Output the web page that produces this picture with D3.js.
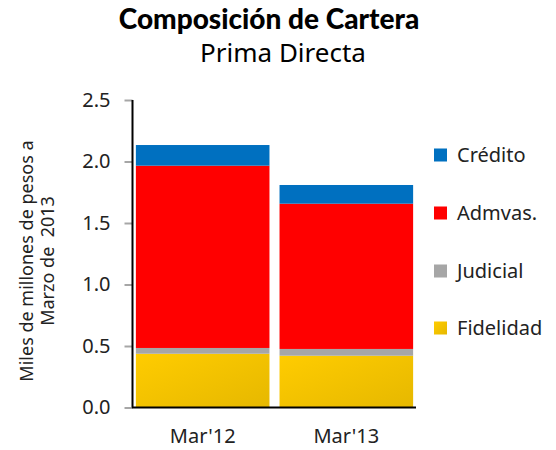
<!DOCTYPE html>
<html><head><meta charset="utf-8">
<script src="https://cdn.jsdelivr.net/npm/d3@7"></script>
<style>body{margin:0;background:#fff}svg{display:block}text{white-space:pre}</style>
</head><body>
<svg id="c" width="556" height="450"></svg>
<script>
const categories = ["Mar'12", "Mar'13"];
const seriesNames = ["Fidelidad", "Judicial", "Admvas.", "Crédito"];
const fidelidad = [0.437, 0.421];
const judicial = [0.047, 0.055];
const admvas = [1.482, 1.181];
const credito = [0.168, 0.152];
const yTicks = [0, 0.5, 1.0, 1.5, 2.0, 2.5];

const colors = {"Fidelidad": "url(#gy)", "Judicial": "#a6a6a6", "Admvas.": "#ff0000", "Crédito": "#0070c0"};
const svg = d3.select("#c");
const font = "'Noto Sans', sans-serif";

const defs = svg.append("defs");
const g = defs.append("linearGradient").attr("id", "gy").attr("x1", "0%").attr("y1", "0%").attr("x2", "100%").attr("y2", "100%");
g.append("stop").attr("offset", "0%").attr("stop-color", "#ffcc00");
g.append("stop").attr("offset", "100%").attr("stop-color", "#e6b800");

const rows = categories.map((c, i) => ({cat: c, "Fidelidad": fidelidad[i], "Judicial": judicial[i], "Admvas.": admvas[i], "Crédito": credito[i]}));
const stack = d3.stack().keys(seriesNames)(rows);

const x = d3.scaleBand().domain(categories).range([133, 416]).paddingInner(0.07).paddingOuter(0.02);
const y = d3.scaleLinear().domain([0, 2.5]).range([407.5, 100]);

stack.forEach(s => {
  svg.append("g").selectAll("rect").data(s).join("rect")
    .attr("x", d => x(d.data.cat))
    .attr("width", x.bandwidth())
    .attr("y", d => y(d[1]))
    .attr("height", d => y(d[0]) - y(d[1]))
    .attr("fill", colors[s.key]);
});

// y axis
const ya = svg.append("g").attr("transform", "translate(132.5,0)")
  .call(d3.axisLeft(y).tickValues(yTicks).tickFormat(d3.format(".1f")).tickSize(8).tickPadding(14));
ya.select(".domain").remove();
ya.selectAll(".tick line").attr("stroke", "#a6a6a6").attr("stroke-width", 2);
ya.selectAll(".tick text").attr("font-family", font).attr("font-size", 20).attr("fill", "#222");
svg.append("line").attr("x1", 132.5).attr("x2", 132.5).attr("y1", y(2.5)).attr("y2", y(0)).attr("stroke", "#000").attr("stroke-width", 2);

// x axis
const xa = svg.append("g").attr("transform", "translate(0,407.5)")
  .call(d3.axisBottom(x).tickSize(0).tickPadding(21));
xa.select(".domain").remove();
xa.selectAll(".tick text").attr("font-family", font).attr("font-size", 20).attr("fill", "#222");
svg.append("line").attr("x1", 132).attr("x2", 416).attr("y1", 407.5).attr("y2", 407.5).attr("stroke", "#000").attr("stroke-width", 2);

// y label
const yl = svg.append("text").attr("transform", "translate(0,261) rotate(-90)").attr("text-anchor", "middle")
  .attr("font-family", font).attr("font-size", 18).attr("fill", "#222");
yl.append("tspan").attr("x", 0).attr("y", 33).text("Miles de millones de pesos a");
yl.append("tspan").attr("x", 0).attr("y", 54).text("Marzo de  2013");

// title
svg.append("text").attr("x", 269).attr("y", 29).attr("text-anchor", "middle")
  .attr("font-family", "Lato, sans-serif").attr("font-weight", 900).attr("font-size", 28).attr("fill", "#000")
  .text("Composición de Cartera");
svg.append("text").attr("x", 283).attr("y", 62).attr("text-anchor", "middle")
  .attr("font-family", font).attr("font-size", 26).attr("fill", "#000")
  .text("Prima Directa");

// legend
const legendOrder = ["Crédito", "Admvas.", "Judicial", "Fidelidad"];
const legendY = [155, 213, 271, 328];
const lg = svg.append("g").selectAll("g").data(legendOrder).join("g")
  .attr("transform", (d, i) => `translate(434,${legendY[i]})`);
lg.append("rect").attr("x", 0).attr("y", -6.5).attr("width", 13).attr("height", 13).attr("fill", d => colors[d]);
lg.append("text").attr("x", 23).attr("y", 0).attr("dy", "0.35em")
  .attr("font-family", font).attr("font-size", 20).attr("fill", "#222").text(d => d);
</script>
</body></html>
